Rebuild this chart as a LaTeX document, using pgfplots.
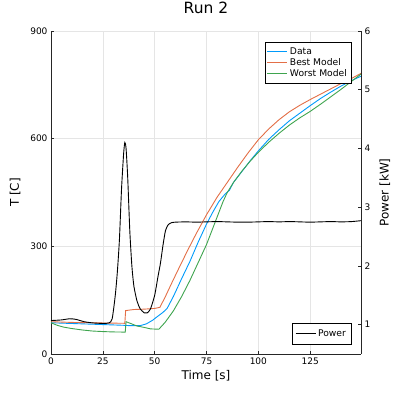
\documentclass[border=0pt]{standalone}
\usepackage{pgfplots}
\pgfplotsset{compat=1.18}
\usepackage{fontspec}
\setmainfont{DejaVu Sans}

\definecolor{cdata}{RGB}{0,154,250}
\definecolor{cbest}{RGB}{227,111,71}
\definecolor{cworst}{RGB}{62,164,78}

\pgfplotsset{
  runbase/.style={
    width=310pt, height=323pt, scale only axis,
    xmin=0, xmax=149.5,
    axis line style={-, black!85, line width=0.6pt},
    tick style={black!85, line width=0.6pt},
    major tick length=3pt, tick align=inside,
    ticklabel style={font=\fontsize{9}{10}\selectfont},
    /pgf/number format/assume math mode=true,
    label style={font=\fontsize{12}{14}\selectfont},
    legend cell align=left,
    legend image code/.code={\draw[#1, line width=1.1pt] (0pt,0pt) -- (20pt,0pt);},
  },
}

\begin{document}
\begin{tikzpicture}
\useasboundingbox (-51pt,-45pt) rectangle (348pt,354pt);

\begin{axis}[
    runbase,
    axis x line*=bottom, axis y line*=left,
    ymin=0, ymax=900,
    xtick={0,25,50,75,100,125},
    ytick={0,300,600,900},
    xmajorgrids, ymajorgrids,
    grid style={black!10, line width=0.5pt},
    title={Run 2},
    title style={font=\fontsize{15.5}{18}\selectfont, at={(axis description cs:0.5,1.053)}, anchor=center},
    xlabel={Time [s]},
    xlabel style={at={(axis description cs:0.5,-0.068)}, anchor=center},
    ylabel={T [C]},
    ylabel style={at={(axis description cs:-0.116,0.5)}, anchor=center},
    legend style={at={(0.968,0.966)}, anchor=north east,
      font=\fontsize{9.2}{10}\selectfont, inner xsep=2pt, inner ysep=3.5pt, row sep=-1.5pt,
      /tikz/every even column/.append style={column sep=1pt}},
]
% Data
\addplot[cdata, line width=0.9pt] coordinates {
 (0,87) (5,86) (10,85) (15,84) (20,83) (25,82) (30,81) (35,80) (38,79) (43,79)
 (46,84) (49,94) (51,103) (54,116) (56,127) (59,160) (63,210) (67,258) (71,312)
 (75,362) (78,395) (81,425) (84,446) (86,456) (88,478) (92,508) (96,538) (100,566)
 (105,598) (110,625) (115,650) (120,671) (125,692) (130,712) (135,730) (140,747)
 (145,762) (149.5,774)
};
% Best model
\addplot[cbest, line width=0.9pt] coordinates {
 (0,90) (10,88) (20,87) (30,86) (35.6,85.5) (36,121) (40,124) (45,125) (50,127)
 (52.5,130) (55,158) (58,195) (62,243) (66,290) (70,335) (75,388) (80,436)
 (85,478) (90,520) (95,560) (100,597) (105,627) (110,653) (115,675) (120,693)
 (125,709) (130,724) (135,739) (140,754) (145,768) (149.5,782)
};
% Worst model
\addplot[cworst, line width=0.9pt] coordinates {
 (0,87) (3,80) (6,75) (10,71) (15,67) (20,64) (25,62.5) (30,61.5) (35.8,61)
 (36.2,90) (38,86) (41.5,78) (45,74) (48,70) (52,69) (55,88) (59,120) (63,160)
 (67,205) (71,255) (75,305) (78,350) (81,395) (83,425) (85,450) (88,478)
 (92,509) (96,537) (100,562) (105,590) (110,615) (115,638) (120,658) (125,676)
 (130,696) (135,717) (140,738) (145,760) (149.5,780)
};
\legend{Data, Best Model, Worst Model}
\end{axis}

\begin{axis}[
    runbase,
    axis y line*=right, axis x line=none,
    ymin=0.5, ymax=6,
    ytick={1,2,3,4,5,6},
    ylabel={Power [kW]},
    ylabel style={at={(axis description cs:1.077,0.5)}, anchor=center, rotate=0},
    legend style={at={(0.968,0.031)}, anchor=south east,
      font=\fontsize{9.2}{10}\selectfont, inner xsep=3pt, inner ysep=4pt,
      /tikz/every even column/.append style={column sep=1pt}},
]
\addplot[black, line width=0.9pt, smooth, tension=0.4] coordinates {
 (0,1.07) (5,1.08) (9,1.10) (12,1.09) (16,1.05) (20,1.03) (25,1.02) (28,1.03)
 (29.5,1.1) (31,1.5) (32,1.9) (33,2.45) (34,3.3) (35,3.9) (35.6,4.1) (36.2,4.0)
 (37,3.5) (38,2.6) (39,2.0) (40,1.65) (41.5,1.4) (43,1.27) (45,1.2) (46.4,1.2)
 (48,1.27) (50,1.5) (51.5,1.8) (52.8,2.05) (54,2.35) (55.2,2.6) (56.5,2.7)
 (58,2.735) (60,2.745) (65,2.75) (70,2.745) (75,2.75) (80,2.755) (85,2.75)
 (90,2.745) (95,2.745) (100,2.75) (105,2.755) (110,2.75) (115,2.755) (120,2.75)
 (125,2.745) (130,2.75) (135,2.755) (140,2.75) (145,2.755) (149.5,2.77)
};
\legend{Power}
\end{axis}
\end{tikzpicture}
\end{document}
